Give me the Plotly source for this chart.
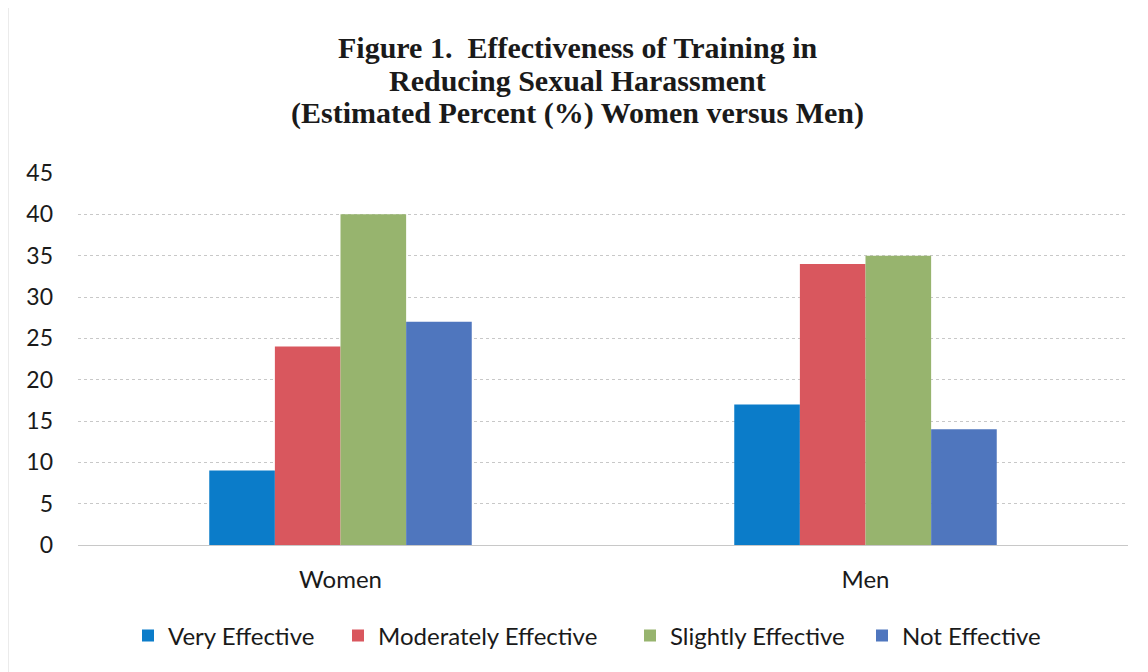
import plotly.graph_objects as go

categories = ["Women", "Men"]
series_names = ["Very Effective", "Moderately Effective", "Slightly Effective", "Not Effective"]
very_effective = [9, 17]
moderately_effective = [24, 34]
slightly_effective = [40, 35]
not_effective = [27, 14]
colors = ["#0B7CC9", "#D9575E", "#97B46E", "#4F76BE"]
title_lines = [
    "Figure 1.  Effectiveness of Training in",
    "Reducing Sexual Harassment",
    "(Estimated Percent (%) Women versus Men)",
]

values = [very_effective, moderately_effective, slightly_effective, not_effective]
legend_ids = ["legend", "legend2", "legend3", "legend4"]

fig = go.Figure()
for name, vals, col, lid in zip(series_names, values, colors, legend_ids):
    fig.add_trace(go.Bar(name=name, x=categories, y=vals, legend=lid, showlegend=True,
                         marker=dict(color=col, line=dict(width=0))))

# page body has an 8px margin, so the figure is offset by (8, 8)
W, H = 1140, 664
ml, mr, mt, mb = 70, 20, 165, 127
ph = H - mt - mb
pw = W - ml - mr

def py(pix):
    return 1 - (pix - mt) / ph

def px(pix):
    return (pix - ml) / pw

annotations = []
for line, ypix in zip(title_lines, [39, 72, 105]):
    annotations.append(dict(
        text="<b>" + line + "</b>", xref="paper", yref="paper",
        x=px(569), y=py(ypix), xanchor="center", yanchor="middle",
        showarrow=False, font=dict(family="Liberation Serif", size=30, color="#1a1a1a"),
    ))

legend_cfg = {}
for lid, mx in zip(legend_ids, [135, 345, 637, 869]):
    legend_cfg[lid] = dict(
        visible=True,
        orientation="h", x=px(mx - 15), xanchor="left", y=-(628 - 537) / ph, yanchor="middle",
        font=dict(size=24, family="Lato", color="#1a1a1a"), itemwidth=30,
        bgcolor="rgba(0,0,0,0)",
    )

fig.update_layout(
    width=W, height=H,
    showlegend=True,
    margin=dict(l=ml, r=mr, t=mt, b=mb),
    paper_bgcolor="white", plot_bgcolor="white",
    barmode="group", bargap=0.5, bargroupgap=0,
    font=dict(family="Lato", color="#1a1a1a"),
    annotations=annotations,
    xaxis=dict(tickfont=dict(size=24), showline=False, ticks="", ticklabelstandoff=18),
    yaxis=dict(
        range=[0, 45], dtick=5, tickfont=dict(size=23),
        showgrid=True, gridcolor="#c8c8c8", griddash="dot", gridwidth=1,
        zeroline=True, zerolinecolor="#c8c8c8", zerolinewidth=1,
        ticks="", ticklabelstandoff=24,
    ),
    shapes=[dict(type="line", xref="paper", yref="paper", x0=px(0), x1=px(0),
                 y0=-mb / ph, y1=1 + mt / ph, line=dict(color="#d8d8d8", width=1))],
    **legend_cfg,
)

fig.write_html("out.html")
